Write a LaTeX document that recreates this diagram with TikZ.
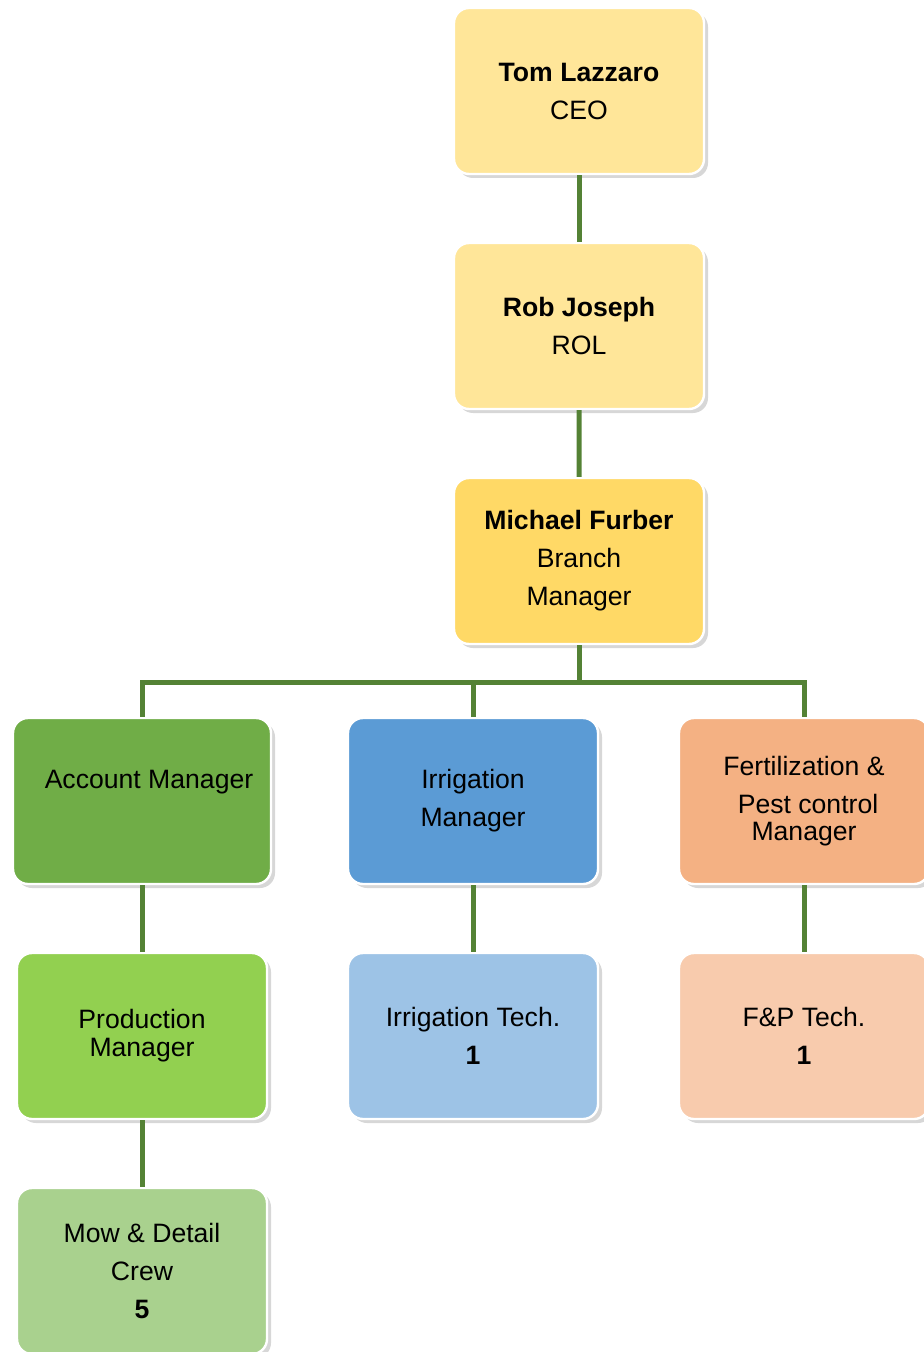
\documentclass[tikz,border=0pt]{standalone}
\usepackage{fontspec}
\setmainfont{Liberation Sans}
\usetikzlibrary{trees, shadows}

\definecolor{ceoyel}{HTML}{FFE699}
\definecolor{branchyel}{HTML}{FFD966}
\definecolor{acctgreen}{HTML}{70AD47}
\definecolor{irrblue}{HTML}{5B9BD5}
\definecolor{fertorange}{HTML}{F4B183}
\definecolor{prodgreen}{HTML}{92D050}
\definecolor{techblue}{HTML}{9DC3E6}
\definecolor{fptan}{HTML}{F8CBAD}
\definecolor{mowgreen}{HTML}{A9D18E}
\definecolor{linegreen}{HTML}{548235}

\begin{document}
\begin{tikzpicture}[
    x=0.5pt, y=-0.5pt,
    grow=down,
    level distance=117.5pt,
    level 3/.style={sibling distance=165.5pt,
      edge from parent path={(\tikzparentnode.south) -- ++(0,-18.5pt) -| (\tikzchildnode.north)}},
    every node/.style={draw=white, line width=1.2pt, rounded corners=7.5pt,
      minimum width=125pt, minimum height=83pt, inner sep=2pt, align=center,
      font=\fontsize{13.3}{19}\selectfont,
      drop shadow={shadow xshift=2pt, shadow yshift=-2pt, fill=black!35, opacity=.45}},
    mgr/.style={xshift=-53pt, yshift=-2.5pt},
    edge from parent/.style={draw=linegreen, line width=2.5pt}
  ]
  \useasboundingbox (0,0) rectangle (923,1352);
  \node[fill=ceoyel] (ceo) at (579,91) {\textbf{Tom Lazzaro}\\CEO}
    child { node[fill=ceoyel] (rol) {\textbf{Rob Joseph}\\ROL}
      child { node[fill=branchyel] (branch) {\textbf{Michael Furber}\\Branch\\Manager}
        child { node[mgr, fill=acctgreen, minimum width=129pt] (acct) {\hspace*{7pt}Account Manager\\\phantom{Ag}}
          child { node[fill=prodgreen] (prod) {Production\\[-5pt]Manager}
            child { node[fill=mowgreen] (mow) {Mow \& Detail\\Crew\\\textbf{5}} }
          }
        }
        child { node[mgr, fill=irrblue] (irr) {Irrigation\\Manager}
          child { node[fill=techblue] (irrtech) {Irrigation Tech.\\\textbf{1}} }
        }
        child { node[mgr, fill=fertorange] (fert) {Fertilization \&\\\hspace*{4pt}Pest control\\[-5.5pt]Manager}
          child { node[fill=fptan] (fptech) {F\&P Tech.\\\textbf{1}} }
        }
      }
    };
\end{tikzpicture}
\end{document}
